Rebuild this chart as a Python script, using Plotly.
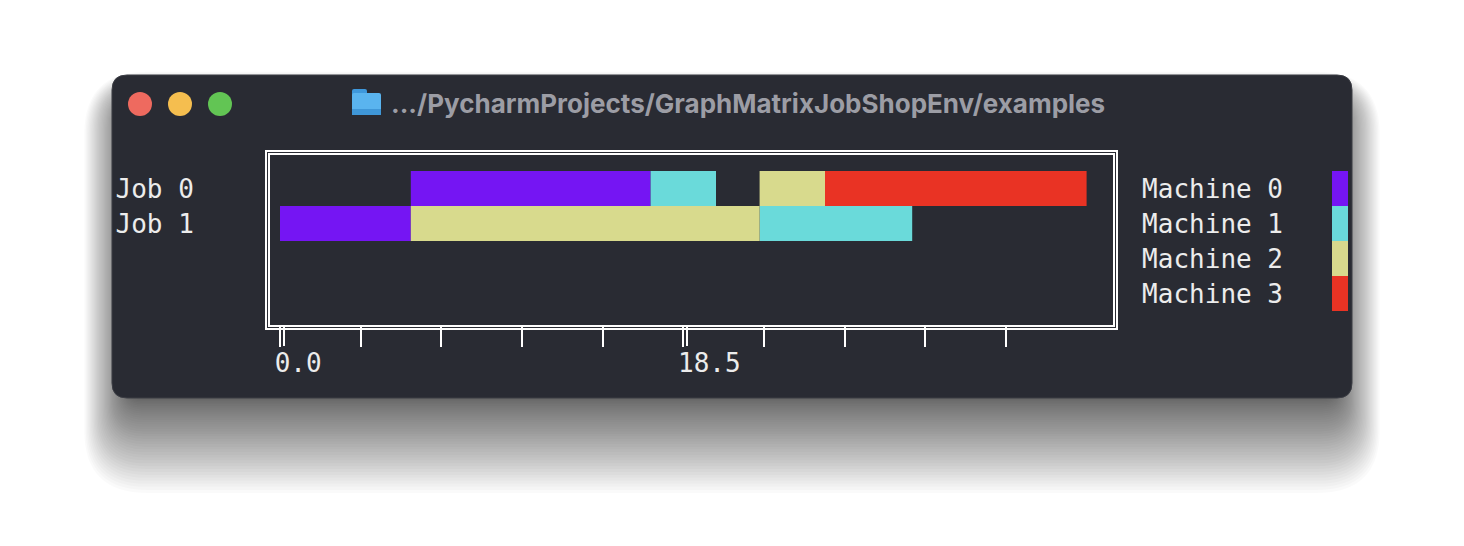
import plotly.graph_objects as go

# figure size in px, used to turn pixel positions into paper fractions
W, H = 1464, 546

# --- data -------------------------------------------------------------
jobs = ["Job 0", "Job 1"]
machines = ["Machine 0", "Machine 1", "Machine 2", "Machine 3"]
machine_colors = ["#7515f3", "#6adada", "#d8da8d", "#e93324"]

# one entry per operation
op_job = [0, 0, 0, 0, 1, 1, 1]
op_machine = [0, 1, 2, 3, 0, 2, 1]
op_start = [6, 17, 22, 25, 0, 6, 22]
op_duration = [11, 3, 3, 12, 6, 16, 7]

x_tick_values = [0, 3.7, 7.4, 11.1, 14.8, 18.5, 22.2, 25.9, 29.6, 33.3]
x_tick_labels = ["0.0\u00a0", "", "", "", "", "18.5", "", "", "", ""]
x_double_ticks = [0, 18.5]

title_text = ".../PycharmProjects/GraphMatrixJobShopEnv/examples"

# --- geometry (pixels) -----------------------------------------------
WIN = (112, 75, 1352, 398)
PLOT = (270, 155, 1113, 325)          # inner frame = axis domain
X0_PX, PX_PER_UNIT = 280, 21.8        # where x=0 sits, scale
ROW_PX, ROW0_PX = 35, 188.5           # row height, centre of first row
SWATCH = (1332, 1348)

MONO = "DejaVu Sans Mono"
TXT = "#ececec"
BG = "#292b33"


def px(x):
    return x / W


def py(y):
    return 1 - y / H


def rrect_path(x0, y0, x1, y1, r):
    pts = [
        ("M", [(x0 + r, y0)]), ("L", [(x1 - r, y0)]),
        ("Q", [(x1, y0), (x1, y0 + r)]), ("L", [(x1, y1 - r)]),
        ("Q", [(x1, y1), (x1 - r, y1)]), ("L", [(x0 + r, y1)]),
        ("Q", [(x0, y1), (x0, y1 - r)]), ("L", [(x0, y0 + r)]),
        ("Q", [(x0, y0), (x0 + r, y0)]),
    ]
    out = ""
    for cmd, ps in pts:
        out += cmd + " ".join(f"{px(a):.5f},{py(b):.5f}" for a, b in ps) + " "
    return out + "Z"


fig = go.Figure()

# gantt bars, one trace per machine
for m, name in enumerate(machines):
    idx = [i for i, mm in enumerate(op_machine) if mm == m]
    fig.add_trace(go.Bar(
        y=[op_job[i] for i in idx],
        x=[op_duration[i] for i in idx],
        base=[op_start[i] for i in idx],
        orientation="h",
        width=1,
        name=name,
        marker=dict(color=machine_colors[m], line=dict(width=0)),
        showlegend=False,
        xaxis="x", yaxis="y",
    ))

# empty trace so the double-tick axis gets drawn
fig.add_trace(go.Scatter(x=[], y=[], xaxis="x2", yaxis="y", showlegend=False))

# colour key on its own little axis
fig.add_trace(go.Bar(
    y=list(range(len(machines))),
    x=[1] * len(machines),
    orientation="h",
    width=1,
    marker=dict(color=machine_colors, line=dict(width=0)),
    showlegend=False,
    xaxis="x3", yaxis="y3",
))

x_range = [(PLOT[0] - X0_PX) / PX_PER_UNIT, (PLOT[2] - X0_PX) / PX_PER_UNIT]
y_range = [(PLOT[3] - ROW0_PX) / ROW_PX, (PLOT[1] - ROW0_PX) / ROW_PX]
shift = 4 / PX_PER_UNIT

shapes = []
# soft drop shadow: many faint rounded rects, mostly below the window
n_layers = 40
for i in range(n_layers):
    b = 95 * ((i + 1) / n_layers) ** 1.3
    s = 0.45 * b - 15
    shapes.append(dict(
        type="path", xref="paper", yref="paper", layer="below",
        path=rrect_path(WIN[0] - s, WIN[1] + 30 - 0.35 * b,
                        WIN[2] + s, WIN[3] + b, 15 + 0.5 * b),
        fillcolor="rgba(0,0,0,0.0215)", line=dict(width=0),
    ))
# window
shapes.append(dict(
    type="path", xref="paper", yref="paper", layer="below",
    path=rrect_path(*WIN, 15), fillcolor=BG,
    line=dict(color="#3c3e45", width=1),
))
# traffic lights
for cx, col in [(140, "#ee6a5f"), (180, "#f5be4f"), (220, "#62c554")]:
    shapes.append(dict(
        type="circle", xref="paper", yref="paper", layer="below",
        x0=px(cx - 12), x1=px(cx + 12), y0=py(116), y1=py(92),
        fillcolor=col, line=dict(width=0),
    ))
# folder icon
shapes.append(dict(
    type="path", xref="paper", yref="paper", layer="below",
    path=rrect_path(352, 89, 367, 97, 2), fillcolor="#3e98dc", line=dict(width=0),
))
shapes.append(dict(
    type="path", xref="paper", yref="paper", layer="below",
    path=rrect_path(352, 93, 381, 115, 2), fillcolor="#5ab4ef", line=dict(width=0),
))
shapes.append(dict(
    type="rect", xref="paper", yref="paper", layer="below",
    x0=px(352), x1=px(381), y0=py(115), y1=py(109),
    fillcolor="#3f97d8", line=dict(width=0),
))
# outer frame line
shapes.append(dict(
    type="rect", xref="paper", yref="paper", layer="above",
    x0=px(PLOT[0] - 4), x1=px(PLOT[2] + 4), y0=py(PLOT[3] + 4), y1=py(PLOT[1] - 4),
    line=dict(color="white", width=2),
))

axis_common = dict(showgrid=False, zeroline=False)

fig.update_layout(
    width=W, height=H,
    margin=dict(l=0, r=0, t=0, b=0),
    paper_bgcolor="white",
    plot_bgcolor="rgba(0,0,0,0)",
    barmode="overlay",
    showlegend=False,
    font=dict(family=MONO, size=26, color=TXT),
    xaxis=dict(
        **axis_common,
        domain=[px(PLOT[0]), px(PLOT[2])],
        range=x_range,
        anchor="y",
        showline=True, mirror=True, linecolor="white", linewidth=2,
        ticks="outside", ticklen=20, tickwidth=2, tickcolor="white",
        tickmode="array", tickvals=x_tick_values, ticktext=x_tick_labels,
        ticklabelshift=26, ticklabelstandoff=-6,
        tickfont=dict(family=MONO, size=26, color=TXT),
    ),
    xaxis2=dict(
        **axis_common,
        overlaying="x", anchor="y", side="bottom",
        range=[x_range[0] - shift, x_range[1] - shift],
        ticks="outside", ticklen=20, tickwidth=2, tickcolor="white",
        tickmode="array", tickvals=x_double_ticks,
        showticklabels=False, showline=False,
    ),
    yaxis=dict(
        **axis_common,
        domain=[py(PLOT[3]), py(PLOT[1])],
        range=y_range,
        anchor="x",
        showline=True, mirror=True, linecolor="white", linewidth=2,
        ticks="",
        tickmode="array", tickvals=list(range(len(jobs))), ticktext=jobs,
        ticklabelstandoff=69,
        tickfont=dict(family=MONO, size=26, color=TXT),
    ),
    xaxis3=dict(
        **axis_common,
        domain=[px(SWATCH[0]), px(SWATCH[1])],
        range=[0, 1], anchor="y3",
        showline=False, showticklabels=False, ticks="",
    ),
    yaxis3=dict(
        **axis_common,
        domain=[py(PLOT[3]), py(PLOT[1])],
        range=y_range, anchor="x3",
        showline=False, ticks="",
        tickmode="array", tickvals=list(range(len(machines))), ticktext=machines,
        ticklabelstandoff=48,
        tickfont=dict(family=MONO, size=26, color=TXT),
    ),
    shapes=shapes,
    annotations=[dict(
        text=title_text, xref="paper", yref="paper",
        x=px(748), y=py(103), xanchor="center", yanchor="middle",
        showarrow=False,
        font=dict(family="Inter", size=26, color="#9c9da5", weight="bold"),
    )],
)

# the page's default body margin would push the figure 8px off
fig.write_html(
    "out.html",
    config={"displayModeBar": False},
    post_script="document.body.style.margin='0';",
)
